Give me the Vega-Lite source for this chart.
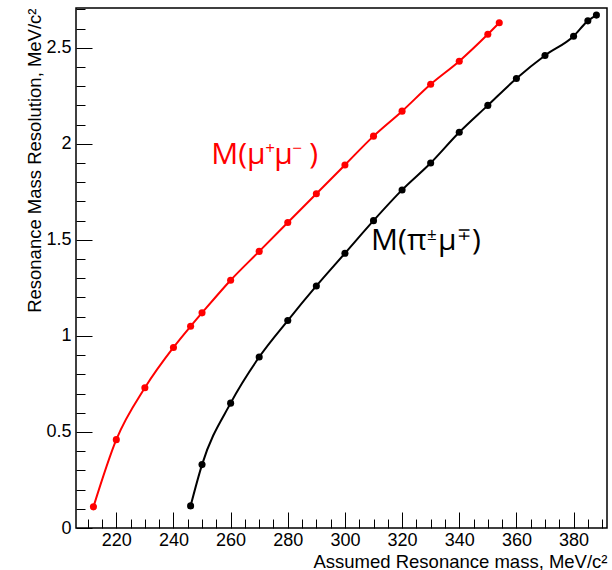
{
  "$schema": "https://vega.github.io/schema/vega-lite/v6.json",
  "width": 531,
  "height": 520,
  "padding": {"left": 76, "top": 8, "right": 5, "bottom": 42},
  "autosize": {"type": "none"},
  "background": "white",
  "config": {
    "view": {"stroke": "black", "strokeWidth": 1.5},
    "axis": {
      "grid": false,
      "domain": false,
      "tickColor": "black",
      "tickWidth": 1,
      "labelColor": "black",
      "labelFont": "Liberation Sans",
      "labelFontSize": 18,
      "titleFont": "Liberation Sans",
      "titleFontSize": 18.5,
      "titleFontWeight": "normal",
      "titleColor": "black"
    }
  },
  "datasets": {
    "curves": [
      {"pair": "mumu", "mass": 212, "res": 0.11},
      {"pair": "mumu", "mass": 220, "res": 0.46},
      {"pair": "mumu", "mass": 230, "res": 0.73},
      {"pair": "mumu", "mass": 240, "res": 0.94},
      {"pair": "mumu", "mass": 246, "res": 1.05},
      {"pair": "mumu", "mass": 250, "res": 1.12},
      {"pair": "mumu", "mass": 260, "res": 1.29},
      {"pair": "mumu", "mass": 270, "res": 1.44},
      {"pair": "mumu", "mass": 280, "res": 1.59},
      {"pair": "mumu", "mass": 290, "res": 1.74},
      {"pair": "mumu", "mass": 300, "res": 1.89},
      {"pair": "mumu", "mass": 310, "res": 2.04},
      {"pair": "mumu", "mass": 320, "res": 2.17},
      {"pair": "mumu", "mass": 330, "res": 2.31},
      {"pair": "mumu", "mass": 340, "res": 2.43},
      {"pair": "mumu", "mass": 350, "res": 2.57},
      {"pair": "mumu", "mass": 354, "res": 2.63},
      {"pair": "pimu", "mass": 246, "res": 0.115},
      {"pair": "pimu", "mass": 250, "res": 0.33},
      {"pair": "pimu", "mass": 260, "res": 0.65},
      {"pair": "pimu", "mass": 270, "res": 0.89},
      {"pair": "pimu", "mass": 280, "res": 1.08},
      {"pair": "pimu", "mass": 290, "res": 1.26},
      {"pair": "pimu", "mass": 300, "res": 1.43},
      {"pair": "pimu", "mass": 310, "res": 1.6},
      {"pair": "pimu", "mass": 320, "res": 1.76},
      {"pair": "pimu", "mass": 330, "res": 1.9},
      {"pair": "pimu", "mass": 340, "res": 2.06},
      {"pair": "pimu", "mass": 350, "res": 2.2},
      {"pair": "pimu", "mass": 360, "res": 2.34},
      {"pair": "pimu", "mass": 370, "res": 2.46},
      {"pair": "pimu", "mass": 380, "res": 2.56},
      {"pair": "pimu", "mass": 385, "res": 2.64},
      {"pair": "pimu", "mass": 388, "res": 2.67}
    ],
    "notes": [
      {"label": "mumu", "mass": 253.9, "res": 1.893},
      {"label": "pimu", "mass": 309.85, "res": 1.446}
    ]
  },
  "resolve": {"axis": {"x": "independent", "y": "independent"}},
  "layer": [
    {
      "data": {"name": "curves"},
      "mark": {"type": "line", "interpolate": "monotone", "strokeWidth": 2},
      "encoding": {
        "x": {
          "field": "mass", "type": "quantitative",
          "scale": {"domain": [205.9, 391.7], "nice": false, "zero": false},
          "axis": {
            "orient": "bottom",
            "values": [220, 240, 260, 280, 300, 320, 340, 360, 380],
            "offset": -16,
            "tickSize": 16,
            "labelPadding": 3,
            "format": "d",
            "title": "Assumed Resonance mass, MeV/c²",
            "titleAnchor": "end",
            "titleAlign": "right",
            "titleX": 531,
            "titleY": 55,
            "titleBaseline": "alphabetic"
          }
        },
        "y": {
          "field": "res", "type": "quantitative",
          "scale": {"domain": [0, 2.707], "nice": false, "zero": false},
          "axis": {
            "orient": "left",
            "values": [0, 0.5, 1, 1.5, 2, 2.5],
            "offset": -16,
            "tickSize": 16,
            "labelPadding": 5,
            "format": "~g",
            "title": "Resonance Mass Resolution, MeV/c²",
            "titleAngle": -90,
            "titleAlign": "right",
            "titleBaseline": "alphabetic",
            "titleX": -52,
            "titleY": 0
          }
        },
        "color": {
          "field": "pair", "type": "nominal",
          "scale": {"domain": ["mumu", "pimu"], "range": ["#ff0000", "#000000"]},
          "legend": null
        }
      }
    },
    {
      "data": {"name": "curves"},
      "mark": {"type": "circle", "size": 50, "opacity": 1},
      "encoding": {
        "x": {
          "field": "mass", "type": "quantitative",
          "scale": {"domain": [205.9, 391.7], "nice": false, "zero": false},
          "axis": {
            "orient": "bottom",
            "values": [210, 215, 225, 230, 235, 245, 250, 255, 265, 270, 275, 285, 290, 295, 305, 310, 315, 325, 330, 335, 345, 350, 355, 365, 370, 375, 385, 390],
            "offset": -9,
            "tickSize": 9,
            "labels": false,
            "title": null
          }
        },
        "y": {
          "field": "res", "type": "quantitative",
          "scale": {"domain": [0, 2.707], "nice": false, "zero": false},
          "axis": {
            "orient": "left",
            "values": [0.1, 0.2, 0.3, 0.4, 0.6, 0.7, 0.8, 0.9, 1.1, 1.2, 1.3, 1.4, 1.6, 1.7, 1.8, 1.9, 2.1, 2.2, 2.3, 2.4, 2.6, 2.7],
            "offset": -9,
            "tickSize": 9,
            "labels": false,
            "title": null
          }
        },
        "color": {
          "field": "pair", "type": "nominal",
          "scale": {"domain": ["mumu", "pimu"], "range": ["#ff0000", "#000000"]},
          "legend": null
        }
      }
    },
    {
      "data": {"name": "notes"},
      "transform": [{"filter": "datum.label == 'mumu'"}],
      "layer": [
        {"mark": {"type": "text", "text": "M(μ", "align": "left", "baseline": "alphabetic", "font": "Open Sans", "fontSize": 30, "color": "#ff0000", "dx": -2}, "encoding": {}},
        {"mark": {"type": "text", "text": "+", "align": "left", "baseline": "alphabetic", "font": "Open Sans", "fontSize": 17, "color": "#ff0000", "dx": 52, "dy": -10}, "encoding": {}},
        {"mark": {"type": "text", "text": "μ", "align": "left", "baseline": "alphabetic", "font": "Open Sans", "fontSize": 30, "color": "#ff0000", "dx": 61}, "encoding": {}},
        {"mark": {"type": "text", "text": "−", "align": "left", "baseline": "alphabetic", "font": "Open Sans", "fontSize": 17, "color": "#ff0000", "dx": 79, "dy": -10}, "encoding": {}},
        {"mark": {"type": "text", "text": ")", "align": "left", "baseline": "alphabetic", "font": "Open Sans", "fontSize": 30, "color": "#ff0000", "dx": 96}, "encoding": {}}
      ],
      "encoding": {
        "x": {"field": "mass", "type": "quantitative", "scale": {"domain": [205.9, 391.7], "nice": false, "zero": false}, "axis": null},
        "y": {"field": "res", "type": "quantitative", "scale": {"domain": [0, 2.707], "nice": false, "zero": false}, "axis": null}
      }
    },
    {
      "data": {"name": "notes"},
      "transform": [{"filter": "datum.label == 'pimu'"}],
      "layer": [
        {"mark": {"type": "text", "text": "M(π", "align": "left", "baseline": "alphabetic", "font": "Open Sans", "fontSize": 30, "color": "#000000", "dx": -2}, "encoding": {}},
        {"mark": {"type": "text", "text": "±", "align": "left", "baseline": "alphabetic", "font": "Open Sans", "fontSize": 17, "color": "#000000", "dx": 54, "dy": -10}, "encoding": {}},
        {"mark": {"type": "text", "text": "μ", "align": "left", "baseline": "alphabetic", "font": "Open Sans", "fontSize": 30, "color": "#000000", "dx": 65}, "encoding": {}},
        {"mark": {"type": "text", "text": "∓", "align": "left", "baseline": "alphabetic", "font": "Open Sans", "fontSize": 17, "color": "#000000", "dx": 84, "dy": -10}, "encoding": {}},
        {"mark": {"type": "text", "text": ")", "align": "left", "baseline": "alphabetic", "font": "Open Sans", "fontSize": 30, "color": "#000000", "dx": 99}, "encoding": {}}
      ],
      "encoding": {
        "x": {"field": "mass", "type": "quantitative", "scale": {"domain": [205.9, 391.7], "nice": false, "zero": false}, "axis": null},
        "y": {"field": "res", "type": "quantitative", "scale": {"domain": [0, 2.707], "nice": false, "zero": false}, "axis": null}
      }
    }
  ]
}
